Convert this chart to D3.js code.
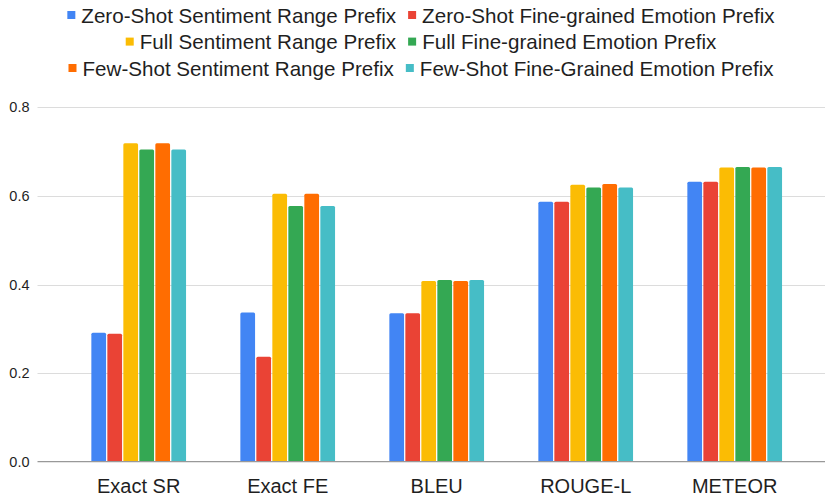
<!DOCTYPE html>
<html>
  <head>
    <meta charset="utf-8">
    <title>metrics</title>
    <script src="https://cdn.jsdelivr.net/npm/d3@7"></script>
    <style>
      body { margin: 0; background: #fff; }
      text { font-family: "Liberation Sans", Arial, sans-serif; }
    </style>
  </head>
  <body>
    <svg width="825" height="499"></svg>
    <script>
    	// data
    	var categories = ["Exact SR", "Exact FE", "BLEU", "ROUGE-L", "METEOR"];
    	var seriesNames = [
    		"Zero-Shot Sentiment Range Prefix",
    		"Zero-Shot Fine-grained Emotion Prefix",
    		"Full Sentiment Range Prefix",
    		"Full Fine-grained Emotion Prefix",
    		"Few-Shot Sentiment Range Prefix",
    		"Few-Shot Fine-Grained Emotion Prefix"
    	];
    	var zeroShotSR = [0.291, 0.337, 0.335, 0.587, 0.632];
    	var zeroShotFE = [0.289, 0.237, 0.335, 0.587, 0.632];
    	var fullSR     = [0.719, 0.605, 0.408, 0.625, 0.664];
    	var fullFE     = [0.705, 0.577, 0.410, 0.619, 0.665];
    	var fewShotSR  = [0.719, 0.605, 0.408, 0.627, 0.664];
    	var fewShotFE  = [0.705, 0.577, 0.410, 0.619, 0.665];
    	var yTicks = [0, 0.2, 0.4, 0.6, 0.8];

    	var seriesValues = [zeroShotSR, zeroShotFE, fullSR, fullFE, fewShotSR, fewShotFE];
    	var colors = ["#4285F4", "#EA4335", "#FBBC04", "#34A853", "#FF6D01", "#46BDC6"];

    	var svg = d3.select("svg");
    	var width = +svg.attr("width");

    	var x0 = d3.scaleBand()
    		.domain(categories)
    		.range([64.2, 809.2])
    		.padding(0);
    	var x1 = d3.scaleBand()
    		.domain(d3.range(seriesNames.length))
    		.range([0, 94.7])
    		.paddingInner(0.08)
    		.paddingOuter(0);
    	var y = d3.scaleLinear()
    		.domain([0, 0.8])
    		.range([461.7, 107.3]);

    	// gridlines
    	svg.append("g")
    		.selectAll("line")
    		.data(yTicks.filter(function(d){ return d > 0; }))
    		.enter()
    		.append("line")
    		.attr("x1", 37.5)
    		.attr("x2", width)
    		.attr("y1", function(d){ return Math.round(y(d)) + 0.5; })
    		.attr("y2", function(d){ return Math.round(y(d)) + 0.5; })
    		.attr("stroke", "#dcdcdc")
    		.attr("stroke-width", 1);

    	// y tick labels
    	svg.append("g")
    		.selectAll("text")
    		.data(yTicks)
    		.enter()
    		.append("text")
    		.attr("x", 29.5)
    		.attr("y", function(d){ return y(d) + 5; })
    		.attr("text-anchor", "end")
    		.attr("font-size", 14.5)
    		.attr("fill", "#1f1f1f")
    		.text(d3.format(".1f"));

    	// bars
    	function barPath(x, yTop, w, h){
    		var r = Math.min(1.5, h / 2);
    		return "M" + x + "," + (yTop + h) +
    			"V" + (yTop + r) +
    			"Q" + x + "," + yTop + " " + (x + r) + "," + yTop +
    			"H" + (x + w - r) +
    			"Q" + (x + w) + "," + yTop + " " + (x + w) + "," + (yTop + r) +
    			"V" + (yTop + h) + "Z";
    	}

    	var groups = svg.append("g")
    		.selectAll("g")
    		.data(categories)
    		.enter()
    		.append("g")
    		.attr("transform", function(d){
    			return "translate(" + (x0(d) + x0.bandwidth() / 2 - 94.7 / 2) + ",0)";
    		});

    	groups.selectAll("path")
    		.data(function(d, ci){
    			return seriesValues.map(function(vals, si){ return {si: si, v: vals[ci]}; });
    		})
    		.enter()
    		.append("path")
    		.attr("d", function(d){
    			return barPath(x1(d.si), y(d.v), x1.bandwidth(), y(0) - y(d.v));
    		})
    		.attr("fill", function(d){ return colors[d.si]; });

    	// baseline
    	svg.append("line")
    		.attr("x1", 37.5)
    		.attr("x2", width)
    		.attr("y1", y(0))
    		.attr("y2", y(0))
    		.attr("stroke", "#999")
    		.attr("stroke-width", 1.3);

    	// x labels
    	svg.append("g")
    		.selectAll("text")
    		.data(categories)
    		.enter()
    		.append("text")
    		.attr("x", function(d){ return x0(d) + x0.bandwidth() / 2; })
    		.attr("y", 492.5)
    		.attr("text-anchor", "middle")
    		.attr("font-size", 20)
    		.attr("fill", "#1f1f1f")
    		.text(function(d){ return d; });

    	// legend: 3 rows of 2, each row centred
    	var legendRows = [[0, 1], [2, 3], [4, 5]];
    	var rowBaselines = [22.7, 49.3, 75.7];
    	var legendCenter = 421;

    	legendRows.forEach(function(row, ri){
    		var rowG = svg.append("g");
    		var cursor = 0;
    		row.forEach(function(si, k){
    			if (k > 0) cursor += 12;
    			rowG.append("rect")
    				.attr("x", cursor)
    				.attr("y", rowBaselines[ri] - 11.7)
    				.attr("width", 8)
    				.attr("height", 8)
    				.attr("fill", colors[si]);
    			cursor += 14;
    			var t = rowG.append("text")
    				.attr("x", cursor)
    				.attr("y", rowBaselines[ri])
    				.attr("font-size", 20.6)
    				.attr("fill", "#1f1f1f")
    				.text(seriesNames[si]);
    			cursor += t.node().getComputedTextLength();
    		});
    		rowG.attr("transform", "translate(" + (legendCenter - cursor / 2) + ",0)");
    	});
    </script>
  </body>
</html>
